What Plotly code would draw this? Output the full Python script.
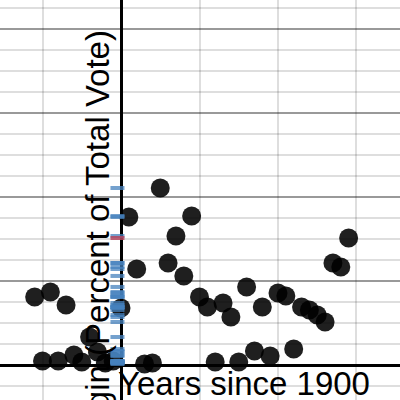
import plotly.graph_objects as go

# Election years, expressed as years since 1900
years = [-44, -40, -36, -32, -28, -24, -20, -16, -12, -8, -4, 0,
         4, 8, 12, 16, 20, 24, 28, 32, 36, 40, 44, 48, 52, 56, 60,
         64, 68, 72, 76, 80, 84, 88, 92, 96, 100, 104, 108, 112, 116]
# Margin (percent of total vote)
margins = [8.10, 0.48, 8.69, 0.48, 7.14, 1.19, 0.36, 3.33, 1.55, 0.24, 0.48, 6.79,
           17.62, 11.43, 0.12, 0.24, 21.07, 12.14, 15.36, 10.60, 17.74, 8.10, 6.90,
           0.36, 7.38, 5.71, 0.36, 9.29, 1.67, 6.90, 1.07, 8.57, 8.21, 1.90, 6.90,
           6.55, 5.95, 5.12, 12.14, 11.67, 15.12]

x_title = "Years since 1900"
y_title = "Margin (Percent of Total Vote)"

RUG_X = -1.8
FONT = "Liberation Sans, Arial, sans-serif"

fig = go.Figure()
fig.add_trace(go.Scatter(
    x=years, y=margins, mode="markers",
    marker=dict(size=19, color="black", opacity=0.88, line=dict(width=0)),
    showlegend=False, hoverinfo="skip"))
fig.add_trace(go.Scatter(
    x=[RUG_X] * (len(margins) - 1), y=margins[:-1], mode="markers",
    marker=dict(symbol="line-ew", size=10,
                line=dict(width=4, color="rgba(70,130,190,0.75)")),
    showlegend=False, hoverinfo="skip"))
fig.add_trace(go.Scatter(
    x=[RUG_X], y=margins[-1:], mode="markers",
    marker=dict(symbol="line-ew", size=10,
                line=dict(width=4, color="rgba(180,70,95,0.85)")),
    showlegend=False, hoverinfo="skip"))

light = "rgba(0,0,0,0.13)"
major = "rgba(0,0,0,0.40)"

fig.update_layout(
    width=400, height=400,
    margin=dict(l=0, r=0, t=0, b=0, pad=0),
    paper_bgcolor="white", plot_bgcolor="white",
    xaxis=dict(range=[-61.66, 142.17], tick0=0, dtick=40,
               showgrid=True, gridcolor=light, gridwidth=2,
               zeroline=True, zerolinecolor="black", zerolinewidth=3,
               showticklabels=False, ticks="", showline=False),
    yaxis=dict(range=[-4.167, 43.45], tick0=0, dtick=10,
               showgrid=True, gridcolor=major, gridwidth=2,
               minor=dict(tick0=0, dtick=2.5, showgrid=True,
                          gridcolor=light, gridwidth=2),
               zeroline=True, zerolinecolor="black", zerolinewidth=3,
               showticklabels=False, ticks="", showline=False),
    annotations=[
        dict(text=x_title, xref="paper", yref="paper",
             x=116 / 400, y=1 - 383 / 400, xanchor="left", yanchor="middle",
             showarrow=False, font=dict(family=FONT, size=33, color="black")),
        dict(text=y_title, xref="paper", yref="paper", textangle=-90,
             x=97 / 400, y=1 - 248 / 400, xanchor="center", yanchor="middle",
             showarrow=False, font=dict(family=FONT, size=33, color="black")),
    ],
)

fig.write_html("out.html", config={"displayModeBar": False},
               post_script="document.body.style.margin='0';document.body.style.overflow='hidden';")
